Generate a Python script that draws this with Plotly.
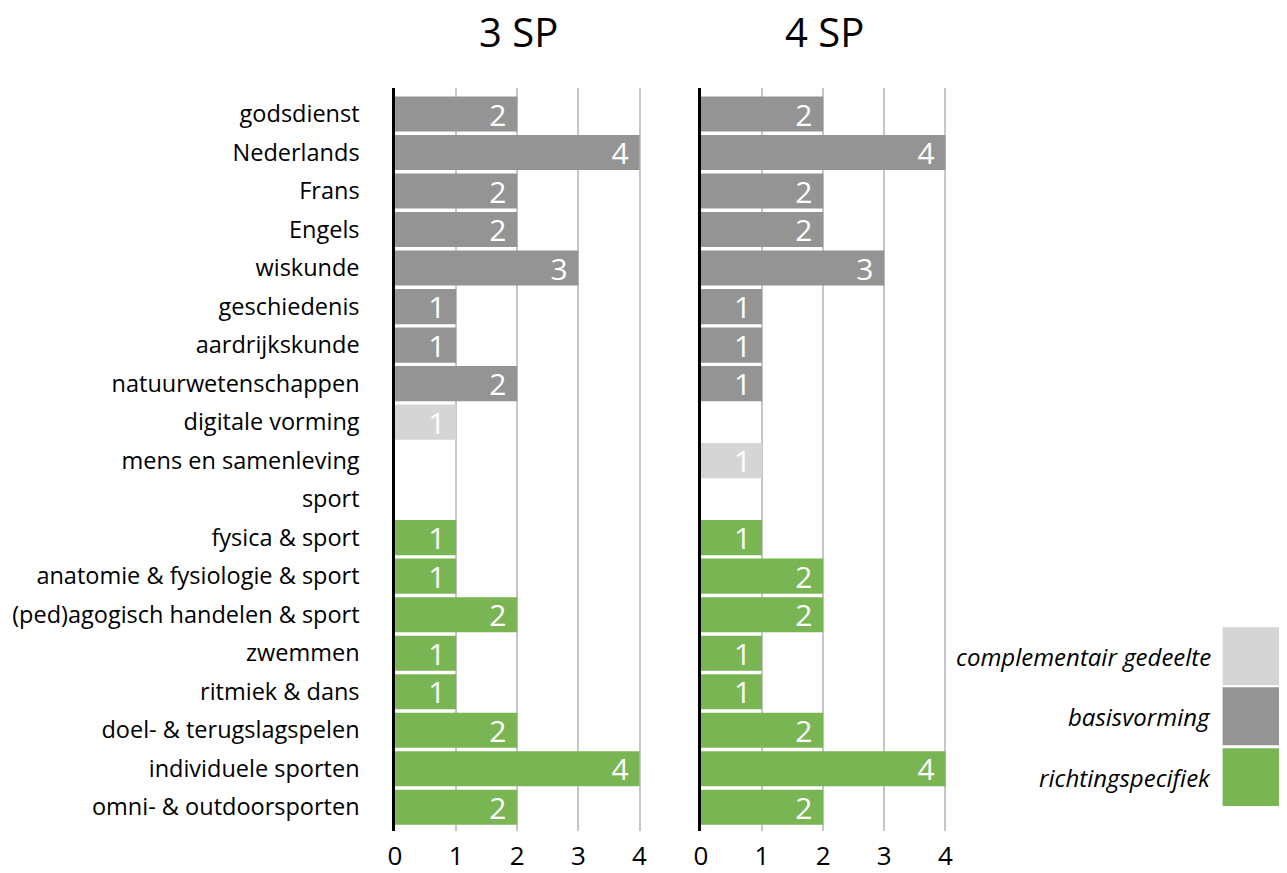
import plotly.graph_objects as go

# Vakken (van boven naar beneden)
vakken = [
    "godsdienst", "Nederlands", "Frans", "Engels", "wiskunde",
    "geschiedenis", "aardrijkskunde", "natuurwetenschappen",
    "digitale vorming", "mens en samenleving", "sport",
    "fysica & sport", "anatomie & fysiologie & sport",
    "(ped)agogisch handelen & sport", "zwemmen", "ritmiek & dans",
    "doel- & terugslagspelen", "individuele sporten",
    "omni- & outdoorsporten",
]

# Lesuren per onderdeel, 3 SP (None = geen uren)
sp3_basis = [2, 4, 2, 2, 3, 1, 1, 2, None, None, None,
             None, None, None, None, None, None, None, None]
sp3_compl = [None, None, None, None, None, None, None, None, 1, None, None,
             None, None, None, None, None, None, None, None]
sp3_richting = [None, None, None, None, None, None, None, None, None, None, None,
                1, 1, 2, 1, 1, 2, 4, 2]

# Lesuren per onderdeel, 4 SP
sp4_basis = [2, 4, 2, 2, 3, 1, 1, 1, None, None, None,
             None, None, None, None, None, None, None, None]
sp4_compl = [None, None, None, None, None, None, None, None, None, 1, None,
             None, None, None, None, None, None, None, None]
sp4_richting = [None, None, None, None, None, None, None, None, None, None, None,
                1, 2, 2, 1, 1, 2, 4, 2]

titels = ["3 SP", "4 SP"]
x_ticks = [0, 1, 2, 3, 4]
legend_labels = ["complementair gedeelte", "basisvorming", "richtingspecifiek"]

KLEUR_COMPL = "#d5d5d5"
KLEUR_BASIS = "#949494"
KLEUR_RICHTING = "#7ab554"
FONT = "'Open Sans', Lato, sans-serif"

fig = go.Figure()

panels = [
    ("x", "y", sp3_basis, sp3_compl, sp3_richting),
    ("x2", "y2", sp4_basis, sp4_compl, sp4_richting),
]
for xa, ya, basis, compl, richting in panels:
    for vals, kleur in ((basis, KLEUR_BASIS), (compl, KLEUR_COMPL), (richting, KLEUR_RICHTING)):
        fig.add_trace(go.Bar(
            x=vals, y=vakken, orientation="h",
            marker=dict(color=kleur, line=dict(width=0)),
            text=vals, texttemplate="%{x}&nbsp;",
            textposition="inside", insidetextanchor="end", textangle=0,
            textfont=dict(color="white", size=30, family=FONT),
            constraintext="none",
            xaxis=xa, yaxis=ya, showlegend=False,
            hoverinfo="x+y",
        ))

W, H = 1287, 873
y_top, y_bot = 88, 832
dom_y = [1 - y_bot / H, 1 - y_top / H]
x_rng = [0, 4.03]
px_per_unit = 61.75

def dom_x(x0):
    return [x0 / W, (x0 + px_per_unit * x_rng[1]) / W]

common_x = dict(
    range=x_rng, tickvals=x_ticks, showgrid=True, gridcolor="#c6c6c6", gridwidth=1.5,
    zeroline=False, showline=False, ticks="", ticklabelstandoff=7,
    tickfont=dict(size=26, color="black", family=FONT), fixedrange=True,
)
common_y = dict(
    categoryorder="array", categoryarray=vakken, range=[18.62, -0.68],
    showgrid=False, zeroline=False, showline=True, linecolor="black", linewidth=2.5,
    layer="above traces", ticks="", fixedrange=True,
)

fig.update_layout(
    width=W, height=H,
    margin=dict(l=0, r=0, t=0, b=0),
    paper_bgcolor="white", plot_bgcolor="white",
    barmode="overlay", bargap=0.09,
    font=dict(family=FONT, color="black"),
    xaxis=dict(domain=dom_x(392), anchor="y", **common_x),
    xaxis2=dict(domain=dom_x(701), anchor="y2", **common_x),
    yaxis=dict(domain=dom_y, anchor="x", showticklabels=True,
               tickfont=dict(size=23.5, color="black", family=FONT),
               ticklabelstandoff=28, **common_y),
    yaxis2=dict(domain=dom_y, anchor="x2", showticklabels=False, **common_y),
)

# Paneeltitels
for titel, xc in zip(titels, [517, 826]):
    fig.add_annotation(
        x=xc / W, y=1 - 32 / H, xref="paper", yref="paper",
        text=titel, showarrow=False, font=dict(size=40, color="black", family=FONT),
        xanchor="center", yanchor="middle",
    )

# Legenda met grote kleurvlakken
legend_kleuren = [KLEUR_COMPL, KLEUR_BASIS, KLEUR_RICHTING]
legend_y = [(628, 686), (688, 746), (749, 807)]
for label, kleur, (y0, y1) in zip(legend_labels, legend_kleuren, legend_y):
    fig.add_shape(
        type="rect", xref="paper", yref="paper",
        x0=1228 / W, x1=1285 / W, y0=1 - y1 / H, y1=1 - y0 / H,
        fillcolor=kleur, line=dict(width=0),
    )
    fig.add_annotation(
        x=1218 / W, y=1 - ((y0 + y1) / 2) / H, xref="paper", yref="paper",
        text=f"<i>{label}</i>", showarrow=False,
        font=dict(size=24, color="black", family=FONT),
        xanchor="right", yanchor="middle",
    )

fig.write_html("out.html")
